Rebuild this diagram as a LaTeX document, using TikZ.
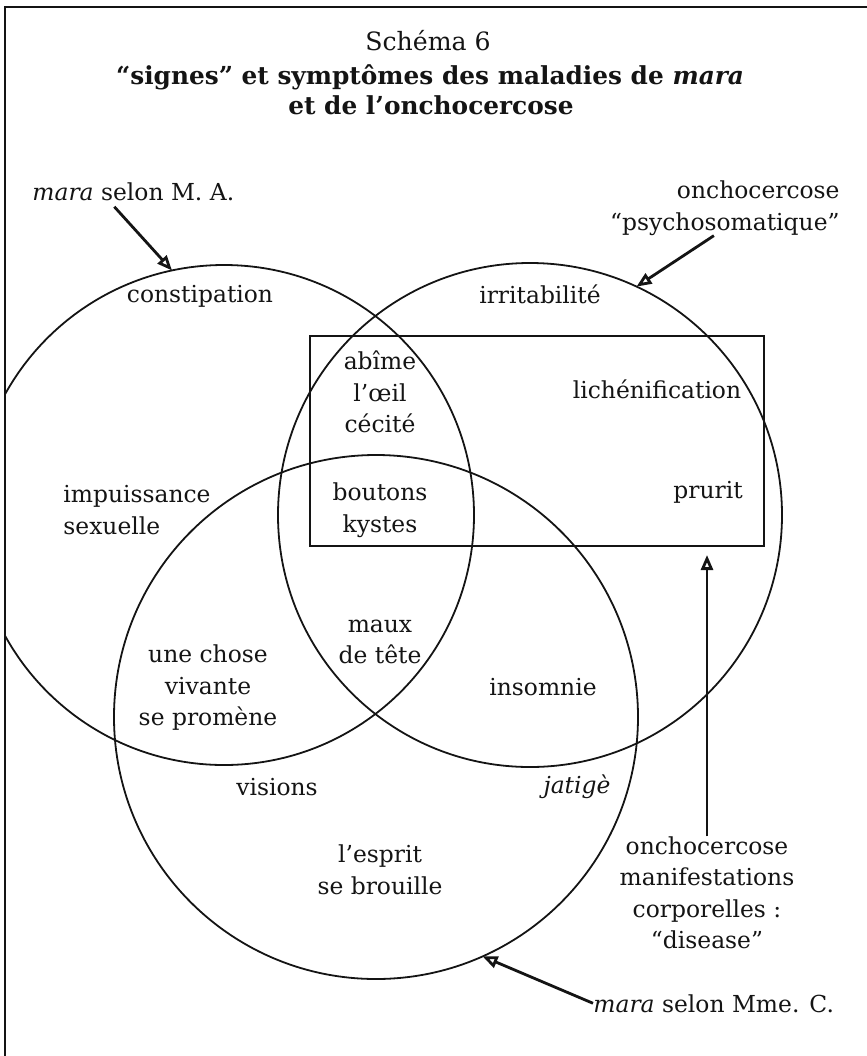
\documentclass[tikz,border=0pt]{standalone}
\usepackage{fontspec}
\setmainfont{DejaVu Serif}
\usetikzlibrary{arrows.meta,positioning,calc}
\definecolor{cInk}{HTML}{141414}

\begin{document}
\begin{tikzpicture}[
  x=0.5pt,y=-0.5pt,
  font=\fontsize{11.7}{15.75}\selectfont,
  txt/.style={inner sep=0pt,text=cInk},
  lbl/.style={txt,align=center},
  ttl/.style={txt,font=\fontsize{12.4}{16}\selectfont\bfseries},
  ring/.style={draw=cInk,circle,line width=0.9pt,inner sep=0pt,outer sep=0pt},
  zonebox/.style={draw=cInk,line width=0.6pt,inner sep=0pt,outer sep=0pt},
  ptr/.style={-{Triangle[open,length=7.5pt,width=6pt]},line width=1.4pt,color=cInk},
]
\useasboundingbox (0,0) rectangle (867,1056);

% ====================================================== frame and title
\draw[line width=1pt,color=cInk] (5,1056) -- (5,7) -- (867,7);

\node[txt,anchor=base,font=\fontsize{12.6}{15}\selectfont] (schema) at (428,50) {Schéma 6};
\node[ttl,anchor=base] (titre1) at (430,84) {“signes” et symptômes des maladies de \textit{mara}};
\node[ttl,anchor=base] (titre2) at (431,114) {et de l’onchocercose};

% ====================================================== the three circles and the box
\begin{scope}
  \clip (5,0) rectangle (867,1056);
  \node[ring,minimum size=250pt] (maraMA) at (224,515) {};
\end{scope}
\node[ring,minimum size=252pt] (psycho) at (530,515) {};
\node[ring,minimum size=262pt] (maraMC) at (376,717) {};

\node[zonebox,minimum width=227pt,minimum height=105pt] (disease) at (537,441) {};

% -- outside labels
\node[txt,anchor=base west] (lblMA) at (32,200) {\textit{mara} selon M. A.};
\node[lbl,align=right,anchor=east] (lblPsy) at (840,208) {onchocercose\\“psychosomatique”};
\node[lbl] (lblDis) at (707,893) {onchocercose\\manifestations\\corporelles :\\“disease”};
\node[txt,anchor=base west] (lblMC) at (593,1012) {\textit{mara} selon Mme. C.};

% -- signs inside the circles
\node[txt,anchor=base] (constip) at (200,302) {constipation};
\node[txt,anchor=base] (irrit) at (540,303) {irritabilité};
\node[lbl] (oeil) at (380,392) {abîme\\l’œil\\cécité};
\node[txt,anchor=base] (lichen) at (657,398) {lichénification};
\node[lbl,align=left,anchor=west] (impuiss) at (63,510) {impuissance\\sexuelle};
\node[lbl] (boutons) at (380,510) {boutons\\kystes};
\node[txt,anchor=base] (prurit) at (708,498) {prurit};
\node[lbl] (chose) at (208,688) {une chose\\vivante\\se promène};
\node[lbl] (maux) at (380,642) {maux\\de tête};
\node[txt,anchor=base] (insom) at (543,695) {insomnie};
\node[txt,anchor=base] (visions) at (277,795) {visions};
\node[txt,anchor=base] (jatige) at (577,793) {\textit{jatigè}};
\node[lbl] (esprit) at (380,870) {l’esprit\\se brouille};

% ====================================================== pointers
\draw[ptr] ([xshift=-9.5pt,yshift=-3pt]lblMA.south) -- (maraMA.102);
\draw[ptr] ([xshift=-5.5pt]lblPsy.south) -- (psycho.65);
\draw[ptr] (lblMC.west) -- (maraMC.-66);
\draw[ptr] (lblDis.north) -- ([yshift=-4.5pt]lblDis.north |- disease.south);

\end{tikzpicture}
\end{document}
